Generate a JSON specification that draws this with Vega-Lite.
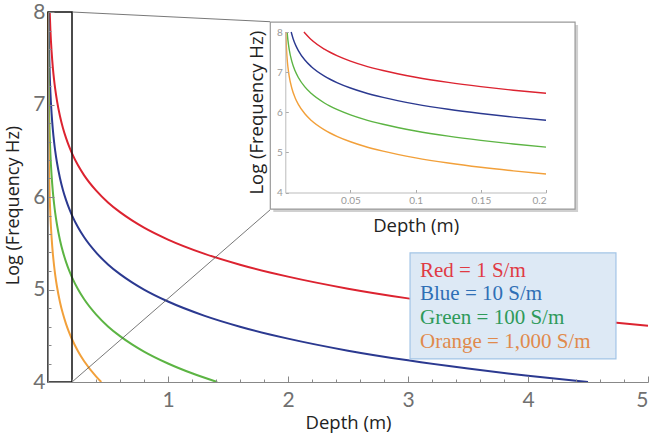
{
  "$schema": "https://vega.github.io/schema/vega-lite/v6.json",
  "width": 600,
  "height": 370,
  "autosize": {"type": "none"},
  "padding": {"left": 48, "top": 12, "right": 8, "bottom": 51},
  "background": "white",
  "config": {"view": {"stroke": null}, "axis": {"grid": false}},
  "datasets": {
    "curves": [
      {"series": "Red", "depth": 0.0143, "logf": 8.0},
      {"series": "Red", "depth": 0.02, "logf": 7.805},
      {"series": "Red", "depth": 0.03, "logf": 7.571},
      {"series": "Red", "depth": 0.04, "logf": 7.404},
      {"series": "Red", "depth": 0.05, "logf": 7.275},
      {"series": "Red", "depth": 0.06, "logf": 7.169},
      {"series": "Red", "depth": 0.075, "logf": 7.04},
      {"series": "Red", "depth": 0.1, "logf": 6.873},
      {"series": "Red", "depth": 0.125, "logf": 6.744},
      {"series": "Red", "depth": 0.15, "logf": 6.639},
      {"series": "Red", "depth": 0.175, "logf": 6.549},
      {"series": "Red", "depth": 0.2, "logf": 6.472},
      {"series": "Red", "depth": 0.25, "logf": 6.343},
      {"series": "Red", "depth": 0.3, "logf": 6.237},
      {"series": "Red", "depth": 0.4, "logf": 6.071},
      {"series": "Red", "depth": 0.5, "logf": 5.941},
      {"series": "Red", "depth": 0.6, "logf": 5.836},
      {"series": "Red", "depth": 0.7, "logf": 5.747},
      {"series": "Red", "depth": 0.8, "logf": 5.669},
      {"series": "Red", "depth": 1.0, "logf": 5.54},
      {"series": "Red", "depth": 1.3, "logf": 5.388},
      {"series": "Red", "depth": 1.6, "logf": 5.268},
      {"series": "Red", "depth": 2.0, "logf": 5.139},
      {"series": "Red", "depth": 2.5, "logf": 5.009},
      {"series": "Red", "depth": 3.0, "logf": 4.904},
      {"series": "Red", "depth": 3.5, "logf": 4.815},
      {"series": "Red", "depth": 4.0, "logf": 4.737},
      {"series": "Red", "depth": 4.5, "logf": 4.669},
      {"series": "Red", "depth": 5.0, "logf": 4.608},
      {"series": "Blue", "depth": 0.0045, "logf": 8.0},
      {"series": "Blue", "depth": 0.006, "logf": 7.832},
      {"series": "Blue", "depth": 0.008, "logf": 7.666},
      {"series": "Blue", "depth": 0.01, "logf": 7.537},
      {"series": "Blue", "depth": 0.015, "logf": 7.302},
      {"series": "Blue", "depth": 0.02, "logf": 7.135},
      {"series": "Blue", "depth": 0.03, "logf": 6.901},
      {"series": "Blue", "depth": 0.04, "logf": 6.734},
      {"series": "Blue", "depth": 0.05, "logf": 6.605},
      {"series": "Blue", "depth": 0.06, "logf": 6.499},
      {"series": "Blue", "depth": 0.075, "logf": 6.37},
      {"series": "Blue", "depth": 0.1, "logf": 6.203},
      {"series": "Blue", "depth": 0.125, "logf": 6.074},
      {"series": "Blue", "depth": 0.15, "logf": 5.969},
      {"series": "Blue", "depth": 0.175, "logf": 5.879},
      {"series": "Blue", "depth": 0.2, "logf": 5.802},
      {"series": "Blue", "depth": 0.25, "logf": 5.673},
      {"series": "Blue", "depth": 0.3, "logf": 5.567},
      {"series": "Blue", "depth": 0.4, "logf": 5.401},
      {"series": "Blue", "depth": 0.5, "logf": 5.271},
      {"series": "Blue", "depth": 0.6, "logf": 5.166},
      {"series": "Blue", "depth": 0.7, "logf": 5.077},
      {"series": "Blue", "depth": 0.8, "logf": 4.999},
      {"series": "Blue", "depth": 1.0, "logf": 4.87},
      {"series": "Blue", "depth": 1.3, "logf": 4.718},
      {"series": "Blue", "depth": 1.6, "logf": 4.598},
      {"series": "Blue", "depth": 2.0, "logf": 4.469},
      {"series": "Blue", "depth": 2.5, "logf": 4.339},
      {"series": "Blue", "depth": 3.0, "logf": 4.234},
      {"series": "Blue", "depth": 3.5, "logf": 4.145},
      {"series": "Blue", "depth": 4.0, "logf": 4.067},
      {"series": "Blue", "depth": 4.5, "logf": 4.0},
      {"series": "Green", "depth": 0.0014, "logf": 8.0},
      {"series": "Green", "depth": 0.002, "logf": 7.799},
      {"series": "Green", "depth": 0.003, "logf": 7.564},
      {"series": "Green", "depth": 0.005, "logf": 7.268},
      {"series": "Green", "depth": 0.0075, "logf": 7.033},
      {"series": "Green", "depth": 0.01, "logf": 6.867},
      {"series": "Green", "depth": 0.015, "logf": 6.632},
      {"series": "Green", "depth": 0.02, "logf": 6.465},
      {"series": "Green", "depth": 0.03, "logf": 6.231},
      {"series": "Green", "depth": 0.04, "logf": 6.064},
      {"series": "Green", "depth": 0.05, "logf": 5.935},
      {"series": "Green", "depth": 0.06, "logf": 5.829},
      {"series": "Green", "depth": 0.075, "logf": 5.7},
      {"series": "Green", "depth": 0.1, "logf": 5.533},
      {"series": "Green", "depth": 0.125, "logf": 5.404},
      {"series": "Green", "depth": 0.15, "logf": 5.299},
      {"series": "Green", "depth": 0.175, "logf": 5.209},
      {"series": "Green", "depth": 0.2, "logf": 5.132},
      {"series": "Green", "depth": 0.25, "logf": 5.003},
      {"series": "Green", "depth": 0.3, "logf": 4.897},
      {"series": "Green", "depth": 0.4, "logf": 4.731},
      {"series": "Green", "depth": 0.5, "logf": 4.601},
      {"series": "Green", "depth": 0.6, "logf": 4.496},
      {"series": "Green", "depth": 0.7, "logf": 4.407},
      {"series": "Green", "depth": 0.8, "logf": 4.329},
      {"series": "Green", "depth": 1.0, "logf": 4.2},
      {"series": "Green", "depth": 1.2, "logf": 4.094},
      {"series": "Green", "depth": 1.41, "logf": 4.0},
      {"series": "Orange", "depth": 0.00045, "logf": 8.0},
      {"series": "Orange", "depth": 0.0006, "logf": 7.826},
      {"series": "Orange", "depth": 0.0008, "logf": 7.659},
      {"series": "Orange", "depth": 0.001, "logf": 7.53},
      {"series": "Orange", "depth": 0.0015, "logf": 7.295},
      {"series": "Orange", "depth": 0.002, "logf": 7.129},
      {"series": "Orange", "depth": 0.003, "logf": 6.894},
      {"series": "Orange", "depth": 0.005, "logf": 6.598},
      {"series": "Orange", "depth": 0.0075, "logf": 6.363},
      {"series": "Orange", "depth": 0.01, "logf": 6.197},
      {"series": "Orange", "depth": 0.015, "logf": 5.962},
      {"series": "Orange", "depth": 0.02, "logf": 5.795},
      {"series": "Orange", "depth": 0.03, "logf": 5.561},
      {"series": "Orange", "depth": 0.04, "logf": 5.394},
      {"series": "Orange", "depth": 0.05, "logf": 5.265},
      {"series": "Orange", "depth": 0.06, "logf": 5.159},
      {"series": "Orange", "depth": 0.075, "logf": 5.03},
      {"series": "Orange", "depth": 0.1, "logf": 4.863},
      {"series": "Orange", "depth": 0.125, "logf": 4.734},
      {"series": "Orange", "depth": 0.15, "logf": 4.628},
      {"series": "Orange", "depth": 0.175, "logf": 4.539},
      {"series": "Orange", "depth": 0.2, "logf": 4.462},
      {"series": "Orange", "depth": 0.25, "logf": 4.333},
      {"series": "Orange", "depth": 0.3, "logf": 4.227},
      {"series": "Orange", "depth": 0.4, "logf": 4.061},
      {"series": "Orange", "depth": 0.444, "logf": 4.0}
    ]
  },
  "layer": [
    {
      "resolve": {"axis": {"x": "independent", "y": "independent"}},
      "layer": [
        {
          "data": {"name": "curves"},
          "mark": {"type": "line", "strokeWidth": 2, "interpolate": "monotone"},
          "encoding": {
            "x": {
              "field": "depth", "type": "quantitative",
              "scale": {"domain": [0, 5], "nice": false},
              "axis": {
                "orient": "bottom",
                "values": [1, 2, 3, 4, 5],
                "format": "d",
                "labelOverlap": false,
                "title": "Depth (m)",
                "titleFont": "Open Sans", "titleFontSize": 18.5, "titleFontWeight": "normal", "titleColor": "#222222",
                "labelFont": "Lato", "labelFontSize": 21, "labelColor": "#707070",
                "tickSize": -6, "tickColor": "#888888", "domainColor": "#888888",
                "labelPadding": 13, "titlePadding": 3, "zindex": 1
              }
            },
            "y": {
              "field": "logf", "type": "quantitative",
              "scale": {"domain": [4, 8], "nice": false, "zero": false},
              "axis": {
                "orient": "left",
                "values": [4, 5, 6, 7, 8],
                "format": "d",
                "labelOverlap": false,
                "title": "Log (Frequency Hz)",
                "titleFont": "Open Sans", "titleFontSize": 18, "titleFontWeight": "normal", "titleColor": "#222222",
                "titleX": -26, "titleY": 193,
                "labelFont": "Lato", "labelFontSize": 21, "labelColor": "#707070",
                "tickSize": -6, "tickColor": "#888888", "domainColor": "#888888",
                "labelPadding": 9, "zindex": 1
              }
            },
            "color": {
              "field": "series", "type": "nominal",
              "scale": {"domain": ["Red", "Blue", "Green", "Orange"], "range": ["#dc2330", "#2b3990", "#5cb443", "#f2a03a"]},
              "legend": null
            }
          }
        },
        {
          "data": {"values": [{}]},
          "mark": {"type": "rect", "fillOpacity": 0, "stroke": "#111111", "strokeWidth": 1.5},
          "encoding": {
            "x": {
              "datum": 0, "type": "quantitative",
              "axis": {
                "orient": "bottom",
                "values": [0.2, 0.4, 0.6, 0.8, 1.2, 1.4, 1.6, 1.8, 2.2, 2.4, 2.6, 2.8, 3.2, 3.4, 3.6, 3.8, 4.2, 4.4, 4.6, 4.8],
                "labels": false, "domain": false, "title": null,
                "tickSize": -3, "tickColor": "#888888", "zindex": 1
              }
            },
            "x2": {"datum": 0.2},
            "y": {
              "datum": 4, "type": "quantitative",
              "axis": {
                "orient": "left",
                "values": [4.2, 4.4, 4.6, 4.8, 5.2, 5.4, 5.6, 5.8, 6.2, 6.4, 6.6, 6.8, 7.2, 7.4, 7.6, 7.8],
                "labels": false, "domain": false, "title": null,
                "tickSize": -3, "tickColor": "#888888", "zindex": 1
              }
            },
            "y2": {"datum": 8}
          }
        },
        {
          "data": {"values": [{}]},
          "mark": {"type": "rule", "stroke": "#555555", "strokeWidth": 0.8},
          "encoding": {
            "x": {"datum": 0.2, "type": "quantitative", "axis": null},
            "y": {"datum": 8, "type": "quantitative", "axis": null},
            "x2": {"datum": 1.85},
            "y2": {"datum": 7.895}
          }
        },
        {
          "data": {"values": [{}]},
          "mark": {"type": "rule", "stroke": "#555555", "strokeWidth": 0.8},
          "encoding": {
            "x": {"datum": 0.2, "type": "quantitative", "axis": null},
            "y": {"datum": 4, "type": "quantitative", "axis": null},
            "x2": {"datum": 1.85},
            "y2": {"datum": 5.86}
          }
        },
        {
          "data": {"values": [{}]},
          "mark": {"type": "rect", "fill": "#dde9f5", "stroke": "#a3c5e6", "strokeWidth": 1.2},
          "encoding": {
            "x": {"datum": 3.017, "type": "quantitative", "axis": null},
            "x2": {"datum": 4.733},
            "y": {"datum": 5.395, "type": "quantitative", "axis": null},
            "y2": {"datum": 4.249}
          }
        },
        {
          "data": {"values": [{}]},
          "mark": {"type": "text", "align": "left", "baseline": "alphabetic", "font": "Liberation Serif", "fontSize": 21, "fill": "#e03a44"},
          "encoding": {
            "x": {"datum": 3.1, "type": "quantitative", "axis": null},
            "y": {"datum": 5.135, "type": "quantitative", "axis": null},
            "text": {"value": "Red = 1 S/m"}
          }
        },
        {
          "data": {"values": [{}]},
          "mark": {"type": "text", "align": "left", "baseline": "alphabetic", "font": "Liberation Serif", "fontSize": 21, "fill": "#2f6fb5"},
          "encoding": {
            "x": {"datum": 3.1, "type": "quantitative", "axis": null},
            "y": {"datum": 4.886, "type": "quantitative", "axis": null},
            "text": {"value": "Blue = 10 S/m"}
          }
        },
        {
          "data": {"values": [{}]},
          "mark": {"type": "text", "align": "left", "baseline": "alphabetic", "font": "Liberation Serif", "fontSize": 21, "fill": "#2e9a5a"},
          "encoding": {
            "x": {"datum": 3.1, "type": "quantitative", "axis": null},
            "y": {"datum": 4.627, "type": "quantitative", "axis": null},
            "text": {"value": "Green = 100 S/m"}
          }
        },
        {
          "data": {"values": [{}]},
          "mark": {"type": "text", "align": "left", "baseline": "alphabetic", "font": "Liberation Serif", "fontSize": 21, "fill": "#e08a4c"},
          "encoding": {
            "x": {"datum": 3.1, "type": "quantitative", "axis": null},
            "y": {"datum": 4.368, "type": "quantitative", "axis": null},
            "text": {"value": "Orange = 1,000 S/m"}
          }
        }
      ]
    },
    {
      "layer": [
        {
          "data": {"values": [{}]},
          "mark": {"type": "rect", "fill": "#b0b0b0", "opacity": 0.6},
          "encoding": {
            "x": {
              "datum": -0.0092, "type": "quantitative",
              "scale": {"domain": [0, 0.2], "range": [237.3, 498], "nice": false, "zero": false},
              "axis": {
                "orient": "bottom", "offset": -189.5,
                "values": [0.05, 0.1, 0.15, 0.2],
                "format": "~g",
                "title": "Depth (m)",
                "titleFont": "Open Sans", "titleFontSize": 18.5, "titleFontWeight": "normal", "titleColor": "#222222",
                "labelFont": "Lato", "labelFontSize": 10, "labelColor": "#999999",
                "tickSize": -3, "tickColor": "#aaaaaa", "domainColor": "#bbbbbb",
                "labelPadding": 6, "titlePadding": 11, "zindex": 2
              }
            },
            "x2": {"datum": 0.2246},
            "y": {
              "datum": 8.173, "type": "quantitative",
              "scale": {"domain": [4, 8], "range": [180.5, 20], "nice": false, "zero": false},
              "axis": {
                "orient": "left", "offset": -237.3,
                "values": [4, 5, 6, 7, 8],
                "format": "d",
                "title": "Log (Frequency Hz)",
                "titleFont": "Open Sans", "titleFontSize": 18.5, "titleFontWeight": "normal", "titleColor": "#222222",
                "labelFont": "Lato", "labelFontSize": 10, "labelColor": "#999999",
                "tickSize": -3, "tickColor": "#aaaaaa", "domainColor": "#bbbbbb",
                "labelPadding": 6, "titlePadding": 10, "zindex": 2
              }
            },
            "y2": {"datum": 3.513}
          }
        },
        {
          "data": {"values": [{}]},
          "mark": {"type": "rect", "fill": "white", "stroke": "#999999", "strokeWidth": 1.2},
          "encoding": {
            "x": {"datum": -0.0115, "type": "quantitative"},
            "x2": {"datum": 0.2223},
            "y": {"datum": 8.248, "type": "quantitative"},
            "y2": {"datum": 3.588}
          }
        },
        {
          "data": {"name": "curves"},
          "transform": [{"filter": "datum.depth <= 0.2"}],
          "mark": {"type": "line", "strokeWidth": 1.4, "interpolate": "monotone"},
          "encoding": {
            "x": {"field": "depth", "type": "quantitative"},
            "y": {"field": "logf", "type": "quantitative"},
            "color": {"field": "series", "type": "nominal", "legend": null}
          }
        }
      ]
    }
  ],
  "resolve": {"scale": {"x": "independent", "y": "independent"}}
}
